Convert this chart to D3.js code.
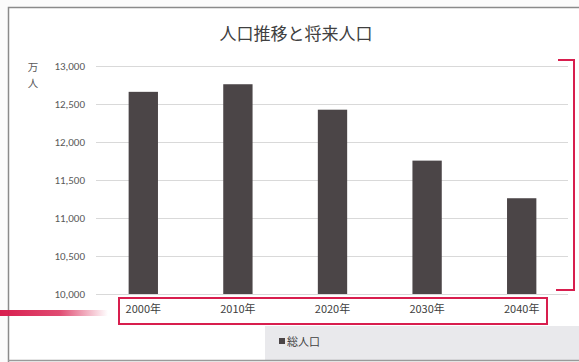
<!DOCTYPE html>
<html>
<head>
<meta charset="utf-8">
<script src="https://cdn.jsdelivr.net/npm/d3@7"></script>
<style>
  html, body { margin: 0; padding: 0; background: #fbfbfb; }
  svg { display: block; font-family: "Noto Sans CJK JP", "Noto Sans", sans-serif; }
</style>
</head>
<body>
<svg id="chart" width="579" height="362"></svg>
<script>
// 人口推移と将来人口 (万人)
const years = ['2000年', '2010年', '2020年', '2030年', '2040年'];
const population = [12660, 12760, 12425, 11755, 11260];
const yTicks = [10000, 10500, 11000, 11500, 12000, 12500, 13000];
const title = '人口推移と将来人口';
const seriesName = '総人口';

const W = 579, H = 362;
const svg = d3.select('#chart');

// chart frame (photographed page)
svg.append('rect').attr('x', 8).attr('y', 7).attr('width', W - 8).attr('height', H - 9)
  .attr('fill', '#fff');
svg.append('rect').attr('x', 265).attr('y', 326).attr('width', W - 265).attr('height', 34)
  .attr('fill', '#e9e9ec');
svg.append('path').attr('d', `M8.5,${H} V7.5 H${W}`)
  .attr('fill', 'none').attr('stroke', '#8a8a8a').attr('stroke-width', 1.5);
svg.append('line').attr('x1', 8).attr('x2', W).attr('y1', 360.5).attr('y2', 360.5)
  .attr('stroke', '#9a9a9a').attr('stroke-width', 1.5);

const x = d3.scaleBand().domain(years).range([96, 569]).paddingInner(0.69).paddingOuter(0.345);
const y = d3.scaleLinear().domain([10000, 13000]).range([294, 66]);

// gridlines
svg.append('g').selectAll('line').data(yTicks).join('line')
  .attr('x1', 96).attr('x2', 568)
  .attr('y1', d => Math.round(y(d)) + 0.5).attr('y2', d => Math.round(y(d)) + 0.5)
  .attr('stroke', '#d9d9d9').attr('stroke-width', 1);

// y axis labels
const yAxis = svg.append('g').attr('transform', 'translate(85,0)')
  .call(d3.axisLeft(y).tickValues(yTicks).tickFormat(d3.format(',')).tickSize(0).tickPadding(0));
yAxis.select('.domain').remove();
yAxis.selectAll('text').attr('fill', '#595959').attr('font-size', 11)
  .attr('font-family', 'Carlito, "Liberation Sans", "Noto Sans", sans-serif');

// unit label (vertical)
svg.append('text').attr('x', 33).attr('y', 71).attr('text-anchor', 'middle')
  .attr('font-size', 10.5).attr('fill', '#595959').text('万');
svg.append('text').attr('x', 33).attr('y', 87).attr('text-anchor', 'middle')
  .attr('font-size', 10.5).attr('fill', '#595959').text('人');

// bars
svg.append('g').selectAll('rect').data(population).join('rect')
  .attr('x', (d, i) => x(years[i]))
  .attr('width', x.bandwidth())
  .attr('y', d => y(d))
  .attr('height', d => y(10000) - y(d))
  .attr('fill', '#4b4547');

// x axis labels
const xAxis = svg.append('g').attr('transform', 'translate(0,294)')
  .call(d3.axisBottom(x).tickSize(0).tickPadding(11));
xAxis.select('.domain').remove();
xAxis.selectAll('text').attr('fill', '#404040').attr('font-size', 11)
  .attr('font-family', '"Noto Sans CJK JP", sans-serif');

// title
svg.append('text').attr('x', 296).attr('y', 40).attr('text-anchor', 'middle')
  .attr('font-size', 17).attr('fill', '#404040').text(title);

// legend
svg.append('rect').attr('x', 279).attr('y', 338).attr('width', 6).attr('height', 6).attr('fill', '#4b4547');
svg.append('text').attr('x', 287).attr('y', 346).attr('font-size', 11).attr('fill', '#404040').text(seriesName);

// red annotation marks
const red = '#d81e4e';
svg.append('rect').attr('x', 119).attr('y', 298).attr('width', 428).attr('height', 26)
  .attr('fill', 'none').attr('stroke', red).attr('stroke-width', 2);
svg.append('path').attr('d', 'M558,60 H574 V290 H556')
  .attr('fill', 'none').attr('stroke', red).attr('stroke-width', 2);
const grad = svg.append('defs').append('linearGradient').attr('id', 'fade')
  .attr('x1', '0%').attr('x2', '100%');
grad.append('stop').attr('offset', '0%').attr('stop-color', red).attr('stop-opacity', 1);
grad.append('stop').attr('offset', '55%').attr('stop-color', red).attr('stop-opacity', 0.8);
grad.append('stop').attr('offset', '100%').attr('stop-color', red).attr('stop-opacity', 0);
svg.append('rect').attr('x', 0).attr('y', 310).attr('width', 108).attr('height', 6).attr('fill', 'url(#fade)');
</script>
</body>
</html>
